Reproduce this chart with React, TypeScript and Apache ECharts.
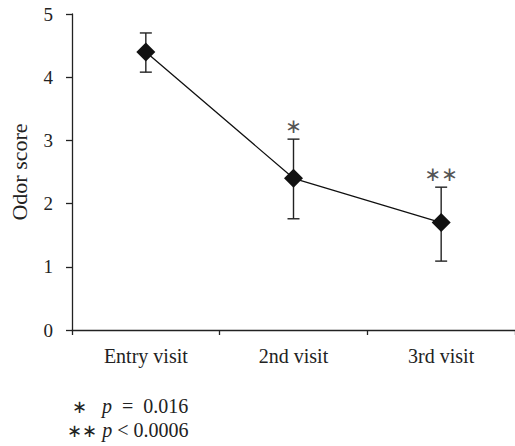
import React, { useEffect, useRef } from "react";
import * as echarts from "echarts";

const categories = ["Entry visit", "2nd visit", "3rd visit"];
const meanScores = [4.4, 2.4, 1.7];
const upperBounds = [4.7, 3.02, 2.26];
const lowerBounds = [4.08, 1.76, 1.09];
const significance = ["", "∗", "∗∗"];
const yTicks = [0, 1, 2, 3, 4, 5];

const FONT = "Liberation Serif";
const FS = 20;

export default function App() {
  const ref = useRef<HTMLDivElement>(null);
  useEffect(() => {
    const chart = echarts.init(ref.current!, null, { renderer: "svg" });
    const errData = categories.map((_, i) => [i, lowerBounds[i], upperBounds[i], significance[i]]);
    chart.setOption({
      animation: false,
      backgroundColor: "#fff",
      grid: { left: 72, right: -4, top: 14, bottom: 116 },
      xAxis: {
        type: "category",
        data: categories,
        boundaryGap: true,
        axisLine: { lineStyle: { color: "#222", width: 1.3 } },
        axisTick: { show: true, length: 5, alignWithLabel: false, lineStyle: { color: "#222", width: 1.3 } },
        axisLabel: { color: "#222", fontFamily: FONT, fontSize: FS, margin: 16 },
      },
      yAxis: {
        type: "value",
        min: yTicks[0],
        max: yTicks[yTicks.length - 1],
        interval: 1,
        name: "Odor score",
        nameLocation: "middle",
        nameGap: 42,
        nameTextStyle: { color: "#222", fontFamily: FONT, fontSize: 22 },
        splitLine: { show: false },
        axisLine: { show: true, lineStyle: { color: "#222", width: 1.3 } },
        axisTick: { show: true, length: 6, lineStyle: { color: "#222", width: 1.3 } },
        axisLabel: { color: "#222", fontFamily: FONT, fontSize: 19, margin: 19 },
      },
      series: [
        {
          type: "custom",
          data: errData,
          z: 1,
          renderItem: (params: any, api: any) => {
            const x = api.value(0);
            const lo = api.coord([x, api.value(1)]);
            const hi = api.coord([x, api.value(2)]);
            const cap = 6;
            const stroke = { stroke: "#222", lineWidth: 1.4 };
            const children: any[] = [
              { type: "line", shape: { x1: lo[0], y1: lo[1], x2: hi[0], y2: hi[1] }, style: stroke },
              { type: "line", shape: { x1: lo[0] - cap, y1: lo[1], x2: lo[0] + cap, y2: lo[1] }, style: stroke },
              { type: "line", shape: { x1: hi[0] - cap, y1: hi[1], x2: hi[0] + cap, y2: hi[1] }, style: stroke },
            ];
            const sig = significance[params.dataIndex];
            if (sig) {
              children.push({
                type: "text",
                x: hi[0],
                y: hi[1] - 3,
                style: {
                  text: sig,
                  textAlign: "center",
                  textVerticalAlign: "bottom",
                  fill: "#555",
                  font: `20px "DejaVu Sans"`,
                },
              });
            }
            return { type: "group", children };
          },
        },
        {
          type: "line",
          data: meanScores,
          z: 3,
          symbol: "diamond",
          symbolSize: 19,
          itemStyle: { color: "#111" },
          lineStyle: { color: "#111", width: 1.3 },
        },
      ],
      graphic: [
        {
          type: "text",
          left: 72,
          top: 396,
          style: {
            text: "{a|∗}   {i|p}  =  0.016",
            rich: {
              a: { fontFamily: "DejaVu Sans", fontSize: 18, fill: "#222" },
              i: { fontFamily: FONT, fontStyle: "italic", fontSize: FS, fill: "#222" },
            },
            font: `${FS}px "${FONT}"`,
            fill: "#222",
          },
        },
        {
          type: "text",
          left: 67,
          top: 420,
          style: {
            text: "{a|∗∗} {i|p} < 0.0006",
            rich: {
              a: { fontFamily: "DejaVu Sans", fontSize: 18, fill: "#222" },
              i: { fontFamily: FONT, fontStyle: "italic", fontSize: FS, fill: "#222" },
            },
            font: `${FS}px "${FONT}"`,
            fill: "#222",
          },
        },
      ],
    });
    return () => chart.dispose();
  }, []);
  return (
    <div
      ref={ref}
      style={{ position: "fixed", left: 0, top: 0, width: 515, height: 446, background: "#fff" }}
    />
  );
}
